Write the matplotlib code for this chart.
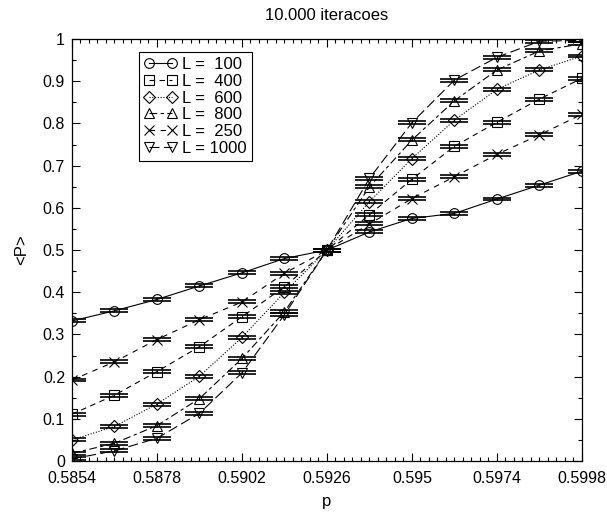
import numpy as np
import matplotlib.pyplot as plt
from matplotlib.ticker import MultipleLocator, FixedLocator

plt.rcParams['font.family'] = ['Liberation Sans', 'DejaVu Sans']

# probability values
p = [0.5854, 0.5866, 0.5878, 0.5890, 0.5902, 0.5914, 0.5926,
     0.5938, 0.5950, 0.5962, 0.5974, 0.5986, 0.5998]

P_100 = [0.332, 0.356, 0.383, 0.415, 0.446, 0.480, 0.500,
         0.543, 0.575, 0.587, 0.621, 0.654, 0.687]
P_400 = [0.111, 0.156, 0.212, 0.271, 0.342, 0.413, 0.500,
         0.584, 0.668, 0.746, 0.803, 0.858, 0.907]
P_600 = [0.050, 0.082, 0.135, 0.201, 0.293, 0.400, 0.500,
         0.615, 0.717, 0.808, 0.881, 0.927, 0.960]
P_800 = [0.018, 0.042, 0.084, 0.148, 0.243, 0.354, 0.500,
         0.650, 0.761, 0.854, 0.927, 0.972, 0.989]
P_250 = [0.192, 0.235, 0.288, 0.335, 0.377, 0.445, 0.500,
         0.562, 0.622, 0.674, 0.727, 0.773, 0.822]
P_1000 = [0.005, 0.024, 0.054, 0.113, 0.209, 0.347, 0.500,
          0.670, 0.802, 0.903, 0.957, 0.995, 0.997]

err = 0.0035

series = [
    ('L =  100', P_100, 'o', '-'),
    ('L =  400', P_400, 's', (0, (5, 4))),
    ('L =  600', P_600, 'D', (0, (1, 1.5))),
    ('L =  800', P_800, '^', (0, (7, 3, 3, 3))),
    ('L =  250', P_250, 'x', (0, (5, 5))),
    ('L = 1000', P_1000, 'v', (0, (9, 4))),
]

fig = plt.figure(figsize=(6.07, 5.12), dpi=100)
ax = fig.add_axes([0.1186, 0.0996, 0.8402, 0.824])

for label, vals, mk, ls in series:
    ms = 6 if mk == 'D' else 7
    ax.errorbar(p, vals, yerr=err, fmt='none', ecolor='k', elinewidth=0.8,
                capsize=10, capthick=1.2)
    ax.plot(p, vals, color='k', lw=0.8, linestyle=ls, marker=mk, ms=ms,
            mfc='none', mec='k', mew=0.8, label=label)

ax.set_xlim(0.5854, 0.5998)
ax.set_ylim(0, 1)
ax.xaxis.set_major_locator(FixedLocator([0.5854, 0.5878, 0.5902, 0.5926, 0.5950, 0.5974, 0.5998]))
ax.set_xticklabels(['0.5854', '0.5878', '0.5902', '0.5926', '0.595', '0.5974', '0.5998'])
ax.xaxis.set_minor_locator(FixedLocator(np.arange(0.5854, 0.59981, 0.00024)))
ax.set_yticks(np.arange(0, 1.01, 0.1))
ax.set_yticklabels(['0', '0.1', '0.2', '0.3', '0.4', '0.5', '0.6', '0.7', '0.8', '0.9', '1'])
ax.yaxis.set_minor_locator(MultipleLocator(0.05))

ax.tick_params(which='both', direction='in', top=True, right=True, labelsize=11.5, colors='k')
ax.tick_params(which='major', length=6, width=0.8)
ax.tick_params(axis='x', which='major', pad=7)
ax.tick_params(axis='y', which='major', pad=5)
ax.tick_params(which='minor', length=3, width=0.8)
for s in ax.spines.values():
    s.set_linewidth(0.9)

ax.set_xlabel('p', fontsize=12, labelpad=6)
ax.set_ylabel('<P>', fontsize=12, labelpad=10)
ax.set_title('10.000 iteracoes', fontsize=12, pad=14)

leg = ax.legend(loc='upper left', bbox_to_anchor=(0.131, 0.969), borderaxespad=0,
                numpoints=2, handlelength=2.0, handletextpad=0.3, labelspacing=0.1,
                fontsize=12, fancybox=False, framealpha=1, edgecolor='k',
                borderpad=0.3)
leg.get_frame().set_linewidth(0.8)

fig.savefig('out.png', dpi=100)
